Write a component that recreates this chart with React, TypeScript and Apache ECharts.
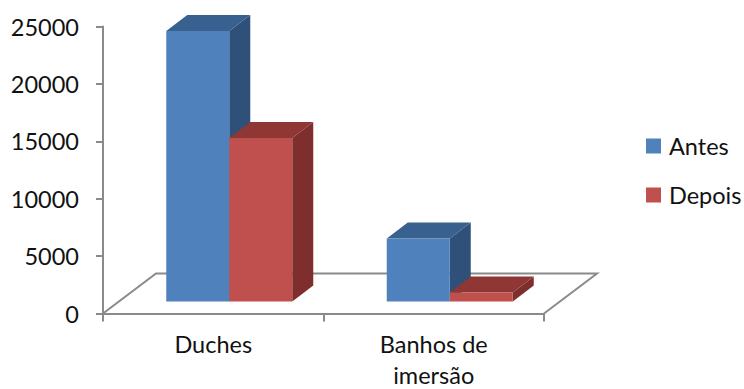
import React, { useEffect, useRef } from "react";
import * as echarts from "echarts";

const categories = ["Duches", "Banhos de\nimersão"];
const antes = [23560, 5490];
const depois = [14240, 780];
const yTicks = { min: 0, max: 25000, interval: 5000 };

const FONT = "Lato, 'Open Sans', sans-serif";
const AXIS_COLOR = "#8a8a8a";
const BAR_W = 63;
const BAR_DX = 21;
const BAR_DY = 16;
const PLANE_DX = 16;
const PLANE_DY = 12;
const FLOOR_DX = 53;
const FLOOR_DY = 40;

type Faces = { front: string; side: string; top: string };

// One extruded column: front, side and top faces, placed from the axis scales.
function columnRenderer(faces: Faces, shift: number) {
  return (_params: any, api: any) => {
    const cat = api.value(0);
    const [cx, yTop] = api.coord([cat, api.value(1)]);
    const [, yBase] = api.coord([cat, 0]);
    const x0 = cx + PLANE_DX + shift * BAR_W;
    const x1 = x0 + BAR_W;
    const top = yTop - PLANE_DY;
    const base = yBase - PLANE_DY;
    return {
      type: "group",
      children: [
        {
          type: "polygon",
          shape: { points: [[x1, top], [x1 + BAR_DX, top - BAR_DY], [x1 + BAR_DX, base - BAR_DY], [x1, base]] },
          style: { fill: faces.side },
        },
        {
          type: "polygon",
          shape: { points: [[x0, top], [x0 + BAR_DX, top - BAR_DY], [x1 + BAR_DX, top - BAR_DY], [x1, top]] },
          style: { fill: faces.top },
        },
        {
          type: "rect",
          shape: { x: x0, y: top, width: BAR_W, height: base - top },
          style: { fill: faces.front },
        },
      ],
    };
  };
}

// The chart floor: the receding edges behind the category axis.
function floorRenderer(params: any) {
  const { x, y, width, height } = params.coordSys;
  const b = y + height;
  return {
    type: "polyline",
    shape: {
      points: [
        [x, b],
        [x + FLOOR_DX, b - FLOOR_DY],
        [x + width + FLOOR_DX, b - FLOOR_DY],
        [x + width, b],
      ],
    },
    style: { fill: "none", stroke: AXIS_COLOR, lineWidth: 2 },
  };
}

export default function App() {
  const ref = useRef<HTMLDivElement>(null);

  useEffect(() => {
    document.body.style.margin = "0";
    const chart = echarts.init(ref.current!, undefined, { renderer: "svg" });
    chart.setOption({
      animation: false,
      backgroundColor: "#ffffff",
      textStyle: { fontFamily: FONT },
      grid: { left: 103, top: 26.5, width: 441, height: 287, outerBoundsMode: "none" },
      legend: {
        orient: "vertical",
        left: 641,
        top: 129,
        itemWidth: 15,
        itemHeight: 15,
        itemGap: 25,
        itemStyle: { borderWidth: 0 },
        icon: "rect",
        textStyle: { fontFamily: FONT, fontSize: 23.5, color: "#111111", padding: [0, 0, 0, 3] },
        data: ["Antes", "Depois"],
      },
      xAxis: {
        type: "category",
        data: categories,
        axisLine: { lineStyle: { color: AXIS_COLOR, width: 2 } },
        axisTick: { show: true, length: 8, lineStyle: { color: AXIS_COLOR, width: 2 } },
        axisLabel: { fontFamily: FONT, fontSize: 23.5, color: "#111111", margin: 15, lineHeight: 31 },
      },
      yAxis: {
        type: "value",
        ...yTicks,
        splitLine: { show: false },
        axisLine: { show: true, lineStyle: { color: AXIS_COLOR, width: 2 } },
        axisTick: { show: true, length: 7, lineStyle: { color: AXIS_COLOR, width: 2 } },
        axisLabel: {
          fontFamily: FONT,
          fontSize: 23.5,
          color: "#111111",
          margin: 24,
          formatter: (v: number) => String(v),
        },
      },
      series: [
        {
          name: "floor",
          type: "custom",
          silent: true,
          data: [[0, 0]],
          renderItem: floorRenderer,
        },
        {
          name: "Antes",
          type: "custom",
          data: antes.map((v, i) => [i, v]),
          encode: { x: 0, y: 1 },
          itemStyle: { color: "#4f81bd" },
          renderItem: columnRenderer({ front: "#4f81bd", side: "#2f5078", top: "#39618f" }, -1),
        },
        {
          name: "Depois",
          type: "custom",
          data: depois.map((v, i) => [i, v]),
          encode: { x: 0, y: 1 },
          itemStyle: { color: "#c0504d" },
          renderItem: columnRenderer({ front: "#c0504d", side: "#7e2e2c", top: "#8e3735" }, 0),
        },
      ],
    });
    return () => chart.dispose();
  }, []);

  return <div ref={ref} style={{ width: 744, height: 389 }} />;
}
